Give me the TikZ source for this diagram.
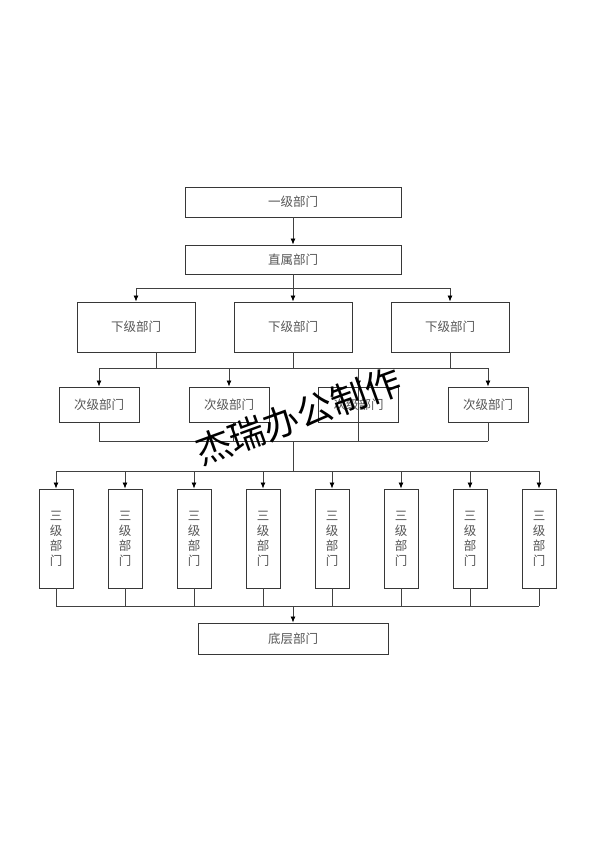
\documentclass[tikz,border=0pt]{standalone}
\usepackage{fontspec}
\usepackage{xcolor}
\usepackage{tikz}
\usetikzlibrary{arrows.meta}
\newfontfamily\cjk{Noto Sans CJK SC}
\definecolor{boxline}{RGB}{55,55,55}
\definecolor{textgray}{RGB}{85,85,85}
\definecolor{wirecol}{RGB}{65,65,65}

\tikzset{
  deptbox/.style={draw=boxline, line width=0.9pt, inner sep=0pt,
    font=\cjk\fontsize{12.5}{15}\selectfont, text=textgray},
  wire/.style={draw=wirecol, line width=0.8pt},
  arr/.style={wire, -{Latex[length=6pt,width=5pt,color=black]}}
}

\begin{document}
\begin{tikzpicture}[x=1pt,y=-1pt]
        \useasboundingbox (0,0) rectangle (594,841);

        % Top levels
        \node[deptbox, minimum width=216pt, minimum height=30pt] (first) at (293,202) {一级部门};
        \node[deptbox, minimum width=216pt, minimum height=29pt] (direct) at (293,259.5) {直属部门};
        \draw[arr] (first) -- (direct);

        % Sub departments
        \foreach \n/\x in {1/136,2/293,3/450}
            \node[deptbox, minimum width=118pt, minimum height=50pt] (sub\n) at (\x,327) {下级部门};
        \coordinate (busA) at (293,288);
        \draw[wire] (direct.south) -- (busA);
        \draw[wire] (sub1.north |- busA) -- (sub3.north |- busA);
        \foreach \n in {1,2,3}
            \draw[arr] (sub\n.north |- busA) -- (sub\n.north);

        % Secondary departments
        \foreach \n/\x in {1/99,2/229,3/358.5,4/488}
            \node[deptbox, minimum width=80pt, minimum height=35pt] (sec\n) at (\x,404.5) {次级部门};
        \coordinate (busB) at (293,368);
        \draw[wire] ([xshift=20pt]sub1.south) -- ([xshift=20pt]sub1.south |- busB);
        \draw[wire] (sub2.south) -- (sub2.south |- busB);
        \draw[wire] (sub3.south) -- (sub3.south |- busB);
        \draw[wire] (sec1.north |- busB) -- (sec4.north |- busB);
        \foreach \n in {1,...,4}
            \draw[arr] (sec\n.north |- busB) -- (sec\n.north);

        % Collecting line below
        \coordinate (busC) at (293,441);
        \draw[wire] (sec1.south) -- (sec1.south |- busC);
        \draw[wire] ([xshift=4pt]sec2.south) -- ([xshift=4pt]sec2.south |- busC);
        \draw[wire] (sec3.north) -- (sec3.south |- busC);
        \draw[wire] (sec4.south) -- (sec4.south |- busC);
        \draw[wire] (sec1.south |- busC) -- (sec4.south |- busC);

        % Third level
        \foreach \n in {1,...,8}
            \node[deptbox, minimum width=34pt, minimum height=99pt, align=center] (third\n) at ({56+69*(\n-1)},538.5) {三\\级\\部\\门};
        \coordinate (busD) at (293,471);
        \draw[wire] (busC) -- (busD);
        \draw[wire] (third1.north |- busD) -- (third8.north |- busD);
        \foreach \n in {1,...,8}
            \draw[arr] (third\n.north |- busD) -- (third\n.north);

        % Bottom
        \node[deptbox, minimum width=190pt, minimum height=31pt] (base) at (293,638.5) {底层部门};
        \coordinate (busE) at (293,606);
        \foreach \n in {1,...,8}
            \draw[wire] (third\n.south) -- (third\n.south |- busE);
        \draw[wire] (third1.south |- busE) -- (third8.south |- busE);
        \draw[arr] (busE) -- (base.north);

        % Watermark
        \node[font=\cjk\fontsize{36}{36}\selectfont, rotate=20] (mark) at (298,416) {杰瑞办公制作};
    \end{tikzpicture}
\end{document}
